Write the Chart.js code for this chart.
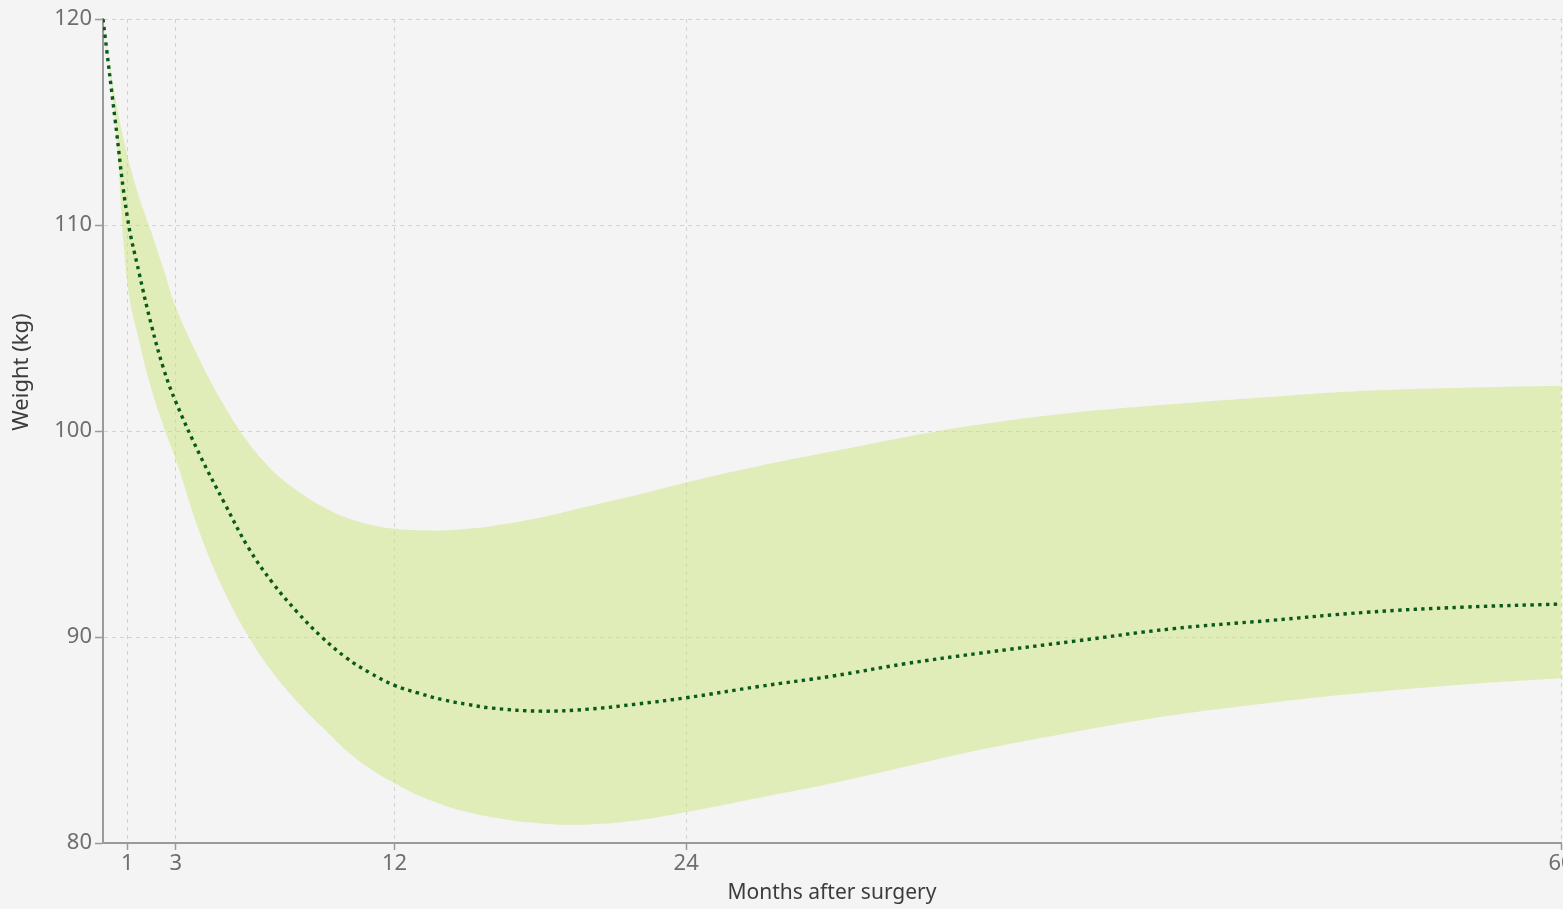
<!DOCTYPE html>
<html>
<head>
<meta charset="utf-8">
<script src="https://cdn.jsdelivr.net/npm/chart.js@4.4.1/dist/chart.umd.min.js"></script>
<style>
  html, body { margin: 0; padding: 0; background: #f4f4f4; overflow: hidden; width: 1563px; height: 909px; }
  #wrap { position: absolute; left: 0; top: 0; width: 1600px; height: 909px; }
  canvas { display: block; }
</style>
</head>
<body>
<div id="wrap"><canvas id="c" width="1600" height="909"></canvas></div>
<script>
// Months after surgery
const months = [0, 0.5, 1, 1.5, 2, 2.5, 3, 4, 5, 6, 7, 8, 9, 10, 11, 12, 13, 14, 15, 16, 18, 20, 22, 24, 27, 30, 33, 36, 40, 44, 48, 52, 56, 60];
// Mean weight (kg)
const meanWeight = [120, 115.1, 110.4, 107.6, 105.1, 103.0, 101.4, 98.8, 96.5, 94.3, 92.6, 91.2, 90.0, 89.0, 88.25, 87.65, 87.27, 86.95, 86.73, 86.55, 86.4, 86.5, 86.75, 87.05, 87.6, 88.1, 88.7, 89.2, 89.8, 90.4, 90.8, 91.2, 91.45, 91.6];
// Upper bound of the range (kg)
const upperWeight = [120, 116.2, 113.4, 111.3, 109.6, 107.8, 106.0, 103.4, 101.2, 99.4, 98.05, 97.1, 96.35, 95.8, 95.45, 95.25, 95.18, 95.17, 95.25, 95.38, 95.8, 96.35, 96.9, 97.5, 98.3, 99.0, 99.7, 100.3, 100.9, 101.3, 101.65, 101.95, 102.1, 102.2];
// Lower bound of the range (kg)
const lowerWeight = [120, 115.0, 107.2, 104.3, 102.0, 100.2, 98.6, 95.0, 92.2, 90.0, 88.25, 86.85, 85.65, 84.5, 83.6, 82.9, 82.3, 81.85, 81.5, 81.25, 80.95, 80.9, 81.1, 81.5, 82.2, 82.9, 83.7, 84.5, 85.4, 86.2, 86.8, 87.3, 87.7, 88.0];
// Tick labels
const xTicks = [1, 3, 12, 24, 60];
const yTicks = [80, 90, 100, 110, 120];
const xTitle = 'Months after surgery';
const yTitle = 'Weight (kg)';

const toPts = (ys) => months.map((m, i) => ({ x: m, y: ys[i] }));
const FONT = '"Noto Sans", "Open Sans", sans-serif';

const yTitlePlugin = {
  id: 'yTitle',
  afterDraw(chart) {
    const ctx = chart.ctx;
    ctx.save();
    ctx.translate(22, 372);
    ctx.rotate(-Math.PI / 2);
    ctx.font = '22px ' + FONT;
    ctx.fillStyle = '#3c3c3c';
    ctx.textAlign = 'center';
    ctx.textBaseline = 'middle';
    ctx.fillText(yTitle, 0, 0);
    ctx.restore();
  }
};

new Chart(document.getElementById('c'), {
  type: 'line',
  data: {
    datasets: [
      {
        label: 'Lower',
        data: toPts(lowerWeight),
        borderWidth: 0,
        borderColor: 'rgba(0,0,0,0)',
        pointRadius: 0,
        fill: false,
        tension: 0.4,
        order: 2
      },
      {
        label: 'Upper',
        data: toPts(upperWeight),
        borderWidth: 0,
        borderColor: 'rgba(0,0,0,0)',
        backgroundColor: 'rgba(204,230,124,0.5)',
        pointRadius: 0,
        fill: '-1',
        tension: 0.4,
        order: 2
      },
      {
        label: 'Mean',
        data: toPts(meanWeight),
        borderColor: '#0a5a1c',
        borderWidth: 3.4,
        borderDash: [3.4, 4.4],
        borderCapStyle: 'butt',
        pointRadius: 0,
        fill: false,
        tension: 0.4,
        order: 0
      }
    ]
  },
  options: {
    responsive: false,
    animation: false,
    layout: { padding: { left: 0, top: 19, right: 39, bottom: 0 } },
    plugins: { legend: { display: false }, tooltip: { enabled: false } },
    scales: {
      x: {
        type: 'linear',
        min: 0,
        max: 60,
        afterBuildTicks: (s) => { s.ticks = xTicks.map(v => ({ value: v })); },
        afterFit: (s) => { s.height = 66; },
        ticks: {
          autoSkip: false,
          maxRotation: 0,
          padding: 1,
          color: '#6e6e6e',
          font: { family: FONT, size: 22 },
          callback: (v) => String(v)
        },
        grid: {
          color: '#d2d2d2',
          lineWidth: 1,
          tickColor: '#9a9a9a',
          tickLength: 7,
          tickWidth: 1.5
        },
        border: { display: true, color: '#9a9a9a', width: 2, dash: [4, 4] },
        title: {
          display: true,
          text: xTitle,
          color: '#3c3c3c',
          font: { family: FONT, size: 21 },
          padding: { top: 0, bottom: 3 }
        }
      },
      y: {
        min: 80,
        max: 120,
        afterBuildTicks: (s) => { s.ticks = yTicks.map(v => ({ value: v })); },
        afterFit: (s) => { s.width = 103; },
        ticks: {
          padding: 3,
          color: '#6e6e6e',
          font: { family: FONT, size: 22 },
          callback: (v) => String(v)
        },
        grid: {
          color: '#d2d2d2',
          lineWidth: 1,
          tickColor: '#9a9a9a',
          tickLength: 8,
          tickWidth: 1.5
        },
        border: { display: true, color: '#9a9a9a', width: 2, dash: [4, 4] }
      }
    }
  },
  plugins: [yTitlePlugin]
});
</script>
</body>
</html>
